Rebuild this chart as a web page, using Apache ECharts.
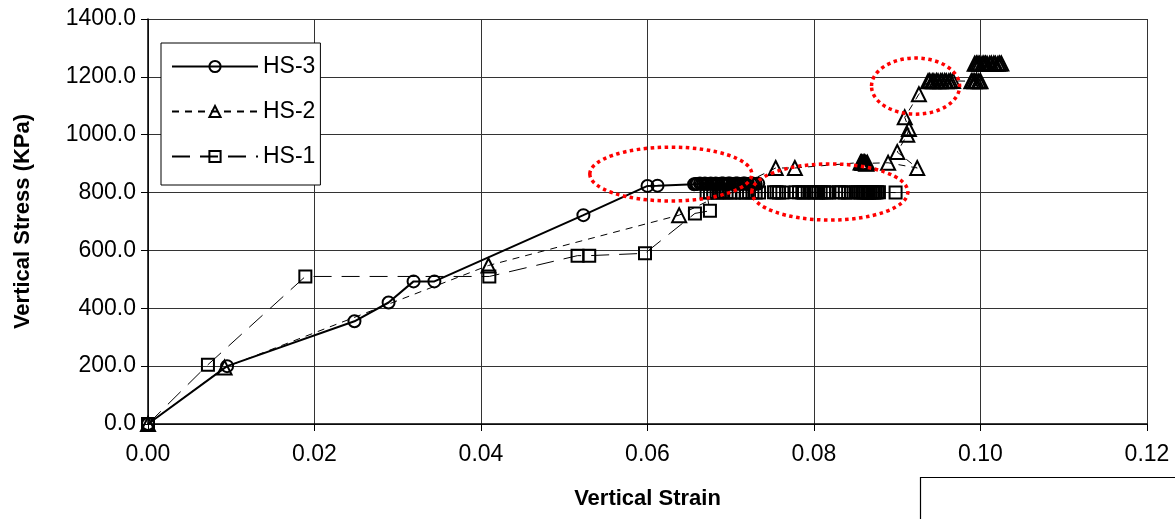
<!DOCTYPE html>
<html><head><meta charset="utf-8">
<script src="https://cdn.jsdelivr.net/npm/echarts@6/dist/echarts.min.js"></script>
<style>html,body{margin:0;padding:0;background:#fff}#c{width:1175px;height:519px}</style>
</head><body><div id="c"></div>
<script>
// ---- data ----
const xTickLabels = ['0.00','0.02','0.04','0.06','0.08','0.10','0.12'];
const yTickLabels = ['0.0','200.0','400.0','600.0','800.0','1000.0','1200.0','1400.0'];
const seriesNames = ['HS-3','HS-2','HS-1'];

const hs3 = [
  [0,0],[0.0095,200],[0.0248,355],[0.0289,420],[0.0319,493],[0.0344,493],
  [0.0523,722],[0.0600,823],[0.0612,824],
  [0.0656,829],[0.0658,830],[0.0660,830],[0.0663,831],[0.0665,830],[0.0667,830],[0.0669,831],
  [0.0671,830],[0.0673,830],[0.0676,831],[0.0678,830],[0.0680,830],[0.0682,831],[0.0684,830],
  [0.0686,830],[0.0689,831],[0.0691,831],[0.0693,830],[0.0695,830],[0.0697,831],[0.0699,831],
  [0.0702,830],[0.0704,830],[0.0706,831],[0.0708,831],[0.0711,830],[0.0713,830],[0.0715,831],
  [0.0717,831],[0.0719,830],[0.0721,830],[0.0724,831],[0.0726,831],[0.0728,830],[0.0730,830],[0.0733,831]
];
const hs2 = [
  [0,0],[0.0092,195],[0.0409,548],[0.0638,722],[0.0754,885],[0.0777,885],
  [0.0856,904],[0.0857,905],[0.0858,903],[0.0859,902],[0.0860,905],[0.0861,905],[0.0862,901],[0.0863,900],[0.0864,903],
  [0.0889,903],[0.0924,885],[0.0900,940],[0.0912,1000],[0.0914,1020],[0.0909,1060],
  [0.0926,1140],[0.0937,1185],[0.0939,1186],[0.0942,1185],[0.0944,1185],[0.0947,1186],[0.0949,1185],
  [0.0952,1185],[0.0954,1186],[0.0957,1186],[0.0959,1185],[0.0962,1185],[0.0964,1186],[0.0967,1186],
  [0.0989,1185],[0.0991,1186],[0.0993,1185],[0.0995,1186],[0.0998,1185],[0.1000,1185],
  [0.0993,1245],[0.0995,1246],[0.0997,1246],[0.0999,1245],[0.1002,1245],[0.1004,1246],[0.1006,1246],
  [0.1008,1245],[0.1011,1245],[0.1013,1246],[0.1016,1246],[0.1018,1245],[0.1021,1245],[0.1023,1246],[0.1025,1246]
];
const hs1 = [
  [0,0],[0.0072,205],[0.0189,510],[0.0410,510],[0.0516,582],[0.0530,582],[0.0597,590],
  [0.0657,728],[0.0675,737],
  [0.0671,800],[0.0675,801],[0.0679,801],[0.0683,800],[0.0687,800],[0.0691,801],[0.0695,801],
  [0.0699,800],[0.0704,800],[0.0714,800],[0.0718,800],[0.0722,801],[0.0726,801],[0.0730,800],
  [0.0734,800],[0.0752,801],[0.0755,801],[0.0758,800],[0.0762,800],[0.0778,801],[0.0782,801],
  [0.0786,800],[0.0788,800],[0.0795,801],[0.0799,801],[0.0802,800],[0.0805,800],[0.0808,801],
  [0.0812,801],[0.0815,800],[0.0818,800],[0.0830,801],[0.0833,801],[0.0837,800],[0.0841,800],
  [0.0850,801],[0.0853,801],[0.0856,800],[0.0858,800],[0.0860,801],[0.0862,801],[0.0864,800],
  [0.0866,800],[0.0868,801],[0.0870,801],[0.0872,800],[0.0874,800],[0.0876,801],[0.0878,801],[0.0898,800]
];
// annotation ellipses (data coords: cx, cy, rx, ry)
const ellipses = [
  [0.0628, 864, 0.00973, 93],
  [0.0819, 802, 0.00937, 97],
  [0.0922, 1168, 0.00529, 97]
];

const FONT = '"Liberation Sans", Arial, sans-serif';
const chart = echarts.init(document.getElementById('c'), null, {renderer:'canvas'});

function mk(name, data, symbol, size, lineStyle){
  return {
    name, type:'line', data, symbol, symbolSize:size, showSymbol:true,
    lineStyle: Object.assign({color:'#000'}, lineStyle),
    itemStyle:{color:'rgba(0,0,0,0)', borderColor:'#000', borderWidth:2},
    emphasis:{disabled:true}, animation:false, z:3
  };
}

chart.setOption({
  animation:false,
  backgroundColor:'#fff',
  grid:{left:148, right:28, top:19, bottom:95, containLabel:false},
  legend:{
    orient:'vertical', left:161, top:43,
    padding:[12,5,17,10], itemGap:22, itemWidth:86, itemHeight:14,
    borderColor:'#000', borderWidth:1, backgroundColor:'#fff',
    selectedMode:false,
    textStyle:{fontFamily:FONT, fontSize:23, color:'#000'},
    data:seriesNames
  },
  xAxis:{
    type:'value', min:0, max:0.12, interval:0.02,
    name:'Vertical Strain', nameLocation:'middle', nameGap:64,
    nameTextStyle:{fontFamily:FONT, fontSize:22, fontWeight:'bold', color:'#000'},
    axisLine:{show:true, onZero:false, lineStyle:{color:'#000', width:1.5}},
    axisTick:{show:true, length:7, lineStyle:{color:'#000'}},
    axisLabel:{margin:19, fontFamily:FONT, fontSize:23, color:'#000',
      formatter:v=>xTickLabels[Math.round(v/0.02)]},
    splitLine:{show:true, lineStyle:{color:'#333', width:1}}
  },
  yAxis:{
    type:'value', min:0, max:1400, interval:200,
    name:'Vertical Stress (KPa)', nameLocation:'middle', nameGap:114,
    nameTextStyle:{fontFamily:FONT, fontSize:22, fontWeight:'bold', color:'#000'},
    axisLine:{show:true, onZero:false, lineStyle:{color:'#000', width:1.5}},
    axisTick:{show:true, length:7, lineStyle:{color:'#000'}},
    axisLabel:{margin:12, fontFamily:FONT, fontSize:23, color:'#000',
      formatter:v=>yTickLabels[Math.round(v/200)]},
    splitLine:{show:true, lineStyle:{color:'#333', width:1}}
  },
  series:[
    mk('HS-3', hs3, 'circle', 12, {width:2, type:'solid'}),
    mk('HS-2', hs2, 'triangle', 14, {width:1, type:[7,6]}),
    mk('HS-1', hs1, 'rect', 12, {width:1, type:[18,10]})
  ]
});

// place annotation ellipses via the chart's own scales
const els = ellipses.map(e=>{
  const c = chart.convertToPixel({gridIndex:0}, [e[0], e[1]]);
  const px = chart.convertToPixel({gridIndex:0}, [e[0]+e[2], e[1]+e[3]]);
  return {
    type:'ellipse', z:10, silent:true,
    shape:{cx:c[0], cy:c[1], rx:Math.abs(px[0]-c[0]), ry:Math.abs(c[1]-px[1])},
    style:{fill:null, stroke:'#ff0000', lineWidth:3.5, lineDash:[3.5,3.5]}
  };
});
els.push({
  type:'rect', z:10, silent:true,
  shape:{x:920.5, y:477.5, width:300, height:100},
  style:{fill:null, stroke:'#000', lineWidth:1.2}
});
chart.setOption({graphic:{elements:els}});
</script>
</body></html>
